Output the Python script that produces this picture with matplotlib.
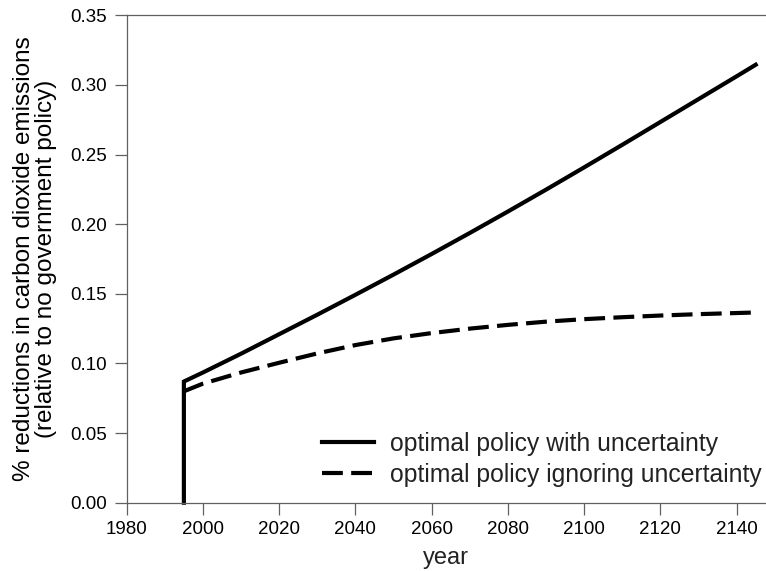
import matplotlib
matplotlib.use("Agg")
import matplotlib.pyplot as plt

plt.rcParams['font.family'] = ['Liberation Sans', 'DejaVu Sans']
plt.rcParams['lines.scale_dashes'] = False

# Data
years_unc = [1995, 1995, 2000, 2010, 2020, 2030, 2040, 2050, 2060, 2070, 2080,
             2090, 2100, 2110, 2120, 2130, 2140, 2145]
red_unc = [0.0, 0.087, 0.0935, 0.107, 0.121, 0.135, 0.1493, 0.1638, 0.1786, 0.1937,
           0.2091, 0.2248, 0.2408, 0.2570, 0.2734, 0.2898, 0.3062, 0.3145]

years_ign = [1995, 2000, 2010, 2020, 2030, 2040, 2050, 2060, 2070, 2080, 2090,
             2100, 2110, 2120, 2130, 2140, 2145]
red_ign = [0.080, 0.0855, 0.0935, 0.1005, 0.1072, 0.1132, 0.1180, 0.1218, 0.1250,
           0.1277, 0.1300, 0.1318, 0.1332, 0.1344, 0.1354, 0.1362, 0.1366]

x_ticks = [1980, 2000, 2020, 2040, 2060, 2080, 2100, 2120, 2140]
y_ticks = [0.00, 0.05, 0.10, 0.15, 0.20, 0.25, 0.30, 0.35]
labels = ["optimal policy with uncertainty", "optimal policy ignoring uncertainty"]

W, H = 766, 571
fig = plt.figure(figsize=(W / 100, H / 100), dpi=100)
left, right, top, bottom = 126.7, 766, 15.3, 502.7
ax = fig.add_axes([left / W, 1 - bottom / H, (right - left) / W, (bottom - top) / H])

ax.plot(years_unc, red_unc, color='black', lw=3.0, solid_joinstyle='miter',
        label=labels[0], clip_on=False)
ax.plot(years_ign, red_ign, color='black', lw=3.0, dashes=(15, 6),
        label=labels[1], clip_on=False)

ax.set_xlim(1980, 2147.7)
ax.set_ylim(0, 0.35)
ax.set_xticks(x_ticks)
ax.set_yticks(y_ticks)
ax.set_xticklabels([str(v) for v in x_ticks])
ax.set_yticklabels([f"{v:.2f}" for v in y_ticks])

grey = '#606060'
for s in ['left', 'bottom', 'top']:
    ax.spines[s].set_color(grey)
    ax.spines[s].set_linewidth(0.9)
ax.spines['right'].set_visible(False)
ax.tick_params(axis='both', direction='out', length=8.5, width=0.9, color=grey,
               labelsize=13.5, labelcolor='black')
ax.tick_params(axis='y', pad=6)
ax.tick_params(axis='x', pad=5)

ax.set_xlabel("year", fontsize=17, color='#222222', labelpad=6)
ax.set_ylabel("% reductions in carbon dioxide emissions\n(relative to no government policy)",
              fontsize=17.5, color='black', linespacing=1.0, labelpad=9)

leg = ax.legend(loc='upper left', bbox_to_anchor=(0.3055, 0.146), frameon=False,
                fontsize=17.8, handlelength=2.1, handletextpad=0.65, labelspacing=0.3,
                borderpad=0, borderaxespad=0)
for t in leg.get_texts():
    t.set_color('#222222')

fig.savefig("out.png", dpi=100)
